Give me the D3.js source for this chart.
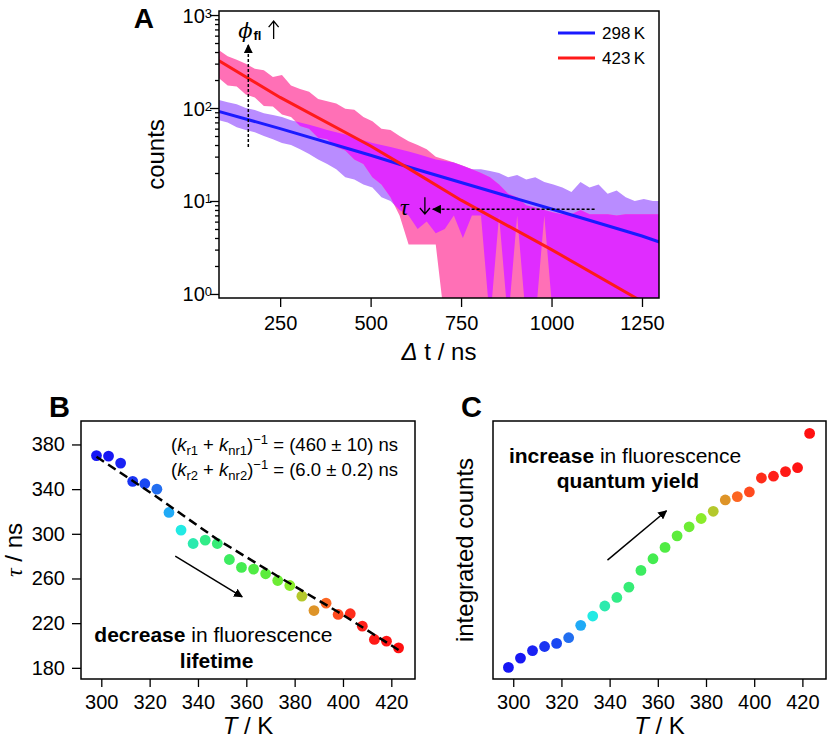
<!DOCTYPE html>
<html>
<head>
<meta charset="utf-8">
<script src="https://cdn.jsdelivr.net/npm/d3@7"></script>
<style>
  body { margin: 0; background: #fff; }
  svg { font-family: "Liberation Sans", Arial, Helvetica, sans-serif; }
</style>
</head>
<body>
<svg id="fig" width="827" height="740"></svg>
<script>
// ---- panel A: decay histograms (upper / lower edge of the noisy trace, every 25 ns) ----
const decayTime = [80,105,130,155,180,205,230,255,280,305,330,355,380,405,430,455,480,505,530,555,
    580,605,630,655,680,705,730,755,780,805,830,855,880,905,930,955,980,1005,1030,1055,
    1080,1105,1130,1155,1180,1205,1230,1255,1280,1305];
const counts423Upper = [420,360,330,300,265,255,215,226,175,160,150,125,118,112,98,96,80,72,60,58,
    50,44,40,36,30,28,26,24,22,20,18,15,12,11,9,8.5,8,7.5,7.2,7.2,
    8,7.2,7.2,7.2,7,7.2,7.2,7.2,7.2,7.2];
const counts423Lower = [210,175,170,140,130,105,104,85,80,64,60,48,46,38,35,28,25,18,15,11,
    7,3.4,3.4,3.4,3.4,0.5,0.5,0.5,0.5,0.5,0.5,0.5,0.5,0.5,0.5,0.5,0.5,0.5,0.5,0.5,
    0.5,0.5,0.5,0.5,0.5,0.5,0.5,0.5,0.5,0.5];
const counts298Upper = [122,115,110,100,95,88,84,80,74,70,66,62,58,55,52,48,45,42,40,38,
    36,34,32,30,28,27,26,24,22,22,21,20,18,19,17,18,16,15,14,12.5,
    16,14,15,12,13,11,10,10.5,10,10];
const counts298Lower = [74,70,62,58,55,50,46,42,40,36,32,28,25,22,18,17,15,14,11,10,
    8,7,5,6,4.5,5,7,4,7,7,0.5,7,0.5,7,0.5,0.5,7,0.5,0.5,0.5,
    0.5,0.5,0.5,0.5,0.5,0.5,0.5,0.5,0.5,0.5];

// fitted decays
const fitTime = [80, 250, 500, 600, 750, 1000, 1250, 1300];
const fit298 = [92, 60, 31, 23.5, 15.8, 8.2, 4.2, 3.6];
const fit423 = [325, 130, 39, 23, 10.2, 3.0, 0.83, 0.65];
const legendLabels = ["298\u2009K", "423\u2009K"];

// ---- panels B and C ----
const temps = [298,303,308,313,318,323,328,333,338,343,348,353,358,363,368,373,378,383,388,393,398,403,408,413,418,423];
const lifetimes = [370,369.6,363.3,346.9,344.8,340,319.1,303.3,291.3,294.3,291.3,277,269.9,268.4,264.2,258.2,253.7,244.2,231.3,237.9,227.8,228.4,217.3,205.4,203.9,197.9];
const lifetimeFitT = [298, 323, 348, 373, 398, 423];
const lifetimeFit = [369, 333, 295, 262, 230, 196];
const integratedCounts = [4.5,8.1,11.0,12.6,13.8,16.0,20.8,24.4,28.3,31.6,35.6,42.1,46.6,51.0,55.5,59.0,62.2,65.0,69.4,70.7,72.5,77.9,78.6,80.4,81.9,95.2];
const pointColors = ["#1616f4","#1818f4","#1a22f4","#1a34f2","#1a48f2","#226ef0","#20aaf6","#22eae4",
    "#2ceaae","#32ec88","#36ec76","#3cec60","#44ec50","#50ec44","#5cec3c","#6cec34","#8aec2a",
    "#b4c82c","#de9428","#fc6622","#ff4a1e","#ff2c1a","#ff201a","#ff1a16","#ff1414","#ff1010"];
const rateLabels = [["r1", "nr1", "460 \u00b1 10"], ["r2", "nr2", "6.0 \u00b1 0.2"]];

const svg = d3.select("#fig");
const defs = svg.append("defs");

defs.append("marker")
    .attr("id", "head")
    .attr("viewBox", "0 0 10 10")
    .attr("refX", 9).attr("refY", 5)
    .attr("markerWidth", 9).attr("markerHeight", 9)
    .attr("markerUnits", "userSpaceOnUse")
    .attr("orient", "auto")
    .append("path")
    .attr("d", "M0,0 L10,5 L0,10 Z")
    .attr("fill", "#000");

function styleAxis(g, size) {
    g.select(".domain").remove();
    g.selectAll(".tick line").attr("stroke", "#000").attr("stroke-width", 1.3);
    g.selectAll(".tick text").attr("fill", "#000").style("font-size", size + "px")
        .style("font-family", '"Liberation Sans", Arial, Helvetica, sans-serif');
}

// thin math-style arrow (up or down) drawn as a path
function thinArrow(g, x, yFrom, yTo) {
    const dir = yTo < yFrom ? 1 : -1;
    g.append("path")
        .attr("d", `M${x},${yFrom} L${x},${yTo} M${x - 5},${yTo + dir * 6} L${x},${yTo} L${x + 5},${yTo + dir * 6}`)
        .attr("fill", "none").attr("stroke", "#000").attr("stroke-width", 1.3);
}

// ================= panel A =================
const xA = d3.scaleLinear().domain([81, 1297]).range([219, 659]);
const yA = d3.scaleLog().domain([0.905, 1105]).range([298, 11]);

const decay423 = decayTime.map((t, i) => ({t: t, hi: counts423Upper[i], lo: counts423Lower[i]}));
const decay298 = decayTime.map((t, i) => ({t: t, hi: counts298Upper[i], lo: counts298Lower[i]}));

const band = d3.area()
    .x(d => xA(d.t))
    .y0(d => yA(d.lo))
    .y1(d => yA(d.hi));

defs.append("clipPath").attr("id", "clipA")
    .append("rect").attr("x", 219).attr("y", 11).attr("width", 440).attr("height", 287);
defs.append("clipPath").attr("id", "clipPink")
    .append("path").attr("d", band(decay423));

const gA = svg.append("g");
const plotA = gA.append("g").attr("clip-path", "url(#clipA)");

plotA.append("path").attr("d", band(decay298)).attr("fill", "#b98cff");
plotA.append("path").attr("d", band(decay423)).attr("fill", "#ff70b6");
plotA.append("g").attr("clip-path", "url(#clipPink)")
    .append("path").attr("d", band(decay298)).attr("fill", "#e02cff");

const fitLine = d3.line().x(d => xA(d[0])).y(d => yA(d[1]));
plotA.append("path")
    .attr("d", fitLine(fitTime.map((t, i) => [t, fit298[i]])))
    .attr("fill", "none").attr("stroke", "#1a1aff").attr("stroke-width", 3);
plotA.append("path")
    .attr("d", fitLine(fitTime.map((t, i) => [t, fit423[i]])))
    .attr("fill", "none").attr("stroke", "#ff1a1a").attr("stroke-width", 3);

// axes
gA.append("g").attr("transform", "translate(0,298)")
    .call(d3.axisBottom(xA).tickValues([250, 500, 750, 1000, 1250]).tickFormat(d3.format("d"))
        .tickSize(9).tickPadding(9).tickSizeOuter(0))
    .call(g => styleAxis(g, 20));

gA.append("g").attr("transform", "translate(219,0)")
    .call(d3.axisLeft(yA).tickValues([1, 10, 100, 1000]).tickSize(9).tickFormat("").tickSizeOuter(0))
    .call(g => styleAxis(g, 20));

let minor = [];
[1, 10, 100].forEach(dec => { for (let m = 2; m <= 9; m++) minor.push(m * dec); });
gA.append("g").attr("transform", "translate(219,0)")
    .call(d3.axisLeft(yA).tickValues(minor).tickSize(4).tickFormat("").tickSizeOuter(0))
    .call(g => styleAxis(g, 20));

[0, 1, 2, 3].forEach(p => {
    const t = gA.append("text")
        .attr("x", 212).attr("y", yA(Math.pow(10, p)) + 7.5)
        .attr("text-anchor", "end").style("font-size", "20px");
    t.append("tspan").text("10");
    t.append("tspan").attr("dy", -5).style("font-size", "13px").text(p);
});

gA.append("rect").attr("x", 219).attr("y", 11).attr("width", 440).attr("height", 287)
    .attr("fill", "none").attr("stroke", "#000").attr("stroke-width", 1.5);

// axis titles
const xtA = gA.append("text").attr("x", 439).attr("y", 360).attr("text-anchor", "middle").style("font-size", "24px");
xtA.append("tspan").style("font-style", "italic").text("\u0394");
xtA.append("tspan").text(" t / ns");
gA.append("text").attr("transform", "translate(163.5,154.5) rotate(-90)")
    .attr("text-anchor", "middle").style("font-size", "24px").text("counts");
gA.append("text").attr("x", 154).attr("y", 28).attr("text-anchor", "end")
    .style("font-size", "28px").style("font-weight", "bold").text("A");

// legend
const legColors = ["#1a1aff", "#ff1a1a"];
legendLabels.forEach((lab, i) => {
    const ly = 33 + i * 25;
    gA.append("line").attr("x1", 558).attr("x2", 595).attr("y1", ly).attr("y2", ly)
        .attr("stroke", legColors[i]).attr("stroke-width", 3);
    gA.append("text").attr("x", 602).attr("y", ly + 6).style("font-size", "17px").text(lab);
});

// annotation arrows
gA.append("line")
    .attr("x1", xA(162)).attr("y1", yA(38)).attr("x2", xA(162)).attr("y2", yA(476))
    .attr("stroke", "#000").attr("stroke-width", 1.5).attr("stroke-dasharray", "3,2")
    .attr("marker-end", "url(#head)");
gA.append("line")
    .attr("x1", xA(1119)).attr("y1", yA(8.15)).attr("x2", xA(672)).attr("y2", yA(8.15))
    .attr("stroke", "#000").attr("stroke-width", 1.5).attr("stroke-dasharray", "3,2")
    .attr("marker-end", "url(#head)");

const phi = gA.append("text").attr("x", xA(134)).attr("y", yA(566)).style("font-size", "21px");
phi.append("tspan").style("font-family", '"DejaVu Serif", serif').style("font-style", "italic").text("\u03d5");
phi.append("tspan").attr("dy", 2).attr("dx", 1).style("font-size", "13px").style("font-weight", "bold").text("fl");
thinArrow(gA, xA(232), yA(552), yA(861));

gA.append("text").attr("x", xA(581)).attr("y", yA(7.07)).style("font-size", "24px")
    .style("font-family", '"Liberation Serif", "DejaVu Serif", serif').style("font-style", "italic").text("\u03c4");
thinArrow(gA, xA(650), yA(11.0), yA(7.25));

// ================= panel B =================
const xB = d3.scaleLinear().domain([291.6, 429.8]).range([81, 415]);
const yB = d3.scaleLinear().domain([170, 401]).range([679, 421]);
const gB = svg.append("g");

gB.append("g").attr("transform", "translate(0,679)")
    .call(d3.axisBottom(xB).tickValues([300, 320, 340, 360, 380, 400, 420]).tickSize(8).tickPadding(8).tickSizeOuter(0))
    .call(g => styleAxis(g, 20));
gB.append("g").attr("transform", "translate(81,0)")
    .call(d3.axisLeft(yB).tickValues([180, 220, 260, 300, 340, 380]).tickSize(9).tickPadding(7).tickSizeOuter(0))
    .call(g => styleAxis(g, 20));

gB.selectAll("circle.pt")
    .data(temps.map((t, i) => ({t: t, v: lifetimes[i], c: pointColors[i]})))
    .join("circle").attr("class", "pt")
    .attr("cx", d => xB(d.t)).attr("cy", d => yB(d.v)).attr("r", 5.4)
    .attr("fill", d => d.c);

gB.append("path")
    .attr("d", d3.line().x(d => xB(d[0])).y(d => yB(d[1]))(lifetimeFitT.map((t, i) => [t, lifetimeFit[i]])))
    .attr("fill", "none").attr("stroke", "#000").attr("stroke-width", 2.5).attr("stroke-dasharray", "9,5");

gB.append("rect").attr("x", 81).attr("y", 421).attr("width", 334).attr("height", 258)
    .attr("fill", "none").attr("stroke", "#000").attr("stroke-width", 1.5);

rateLabels.forEach((r, i) => {
    const t = gB.append("text").attr("x", xB(422.8)).attr("y", yB(374.4 - i * 22.4))
        .attr("text-anchor", "end").style("font-size", "18.5px");
    t.append("tspan").text("(");
    t.append("tspan").style("font-style", "italic").text("k");
    t.append("tspan").attr("dy", 4).style("font-size", "13px").text(r[0]);
    t.append("tspan").attr("dy", -4).text(" + ");
    t.append("tspan").style("font-style", "italic").text("k");
    t.append("tspan").attr("dy", 4).style("font-size", "13px").text(r[1]);
    t.append("tspan").attr("dy", -4).text(")");
    t.append("tspan").attr("dy", -7).style("font-size", "13px").text("\u22121");
    t.append("tspan").attr("dy", 7).text(" = (" + r[2] + ") ns");
});

gB.append("line")
    .attr("x1", xB(330.6)).attr("y1", yB(280)).attr("x2", xB(358.3)).attr("y2", yB(243.6))
    .attr("stroke", "#000").attr("stroke-width", 1.5).attr("marker-end", "url(#head)");

const tB1 = gB.append("text").attr("x", xB(346.4)).attr("y", yB(203.4)).attr("text-anchor", "middle").style("font-size", "21px");
tB1.append("tspan").style("font-weight", "bold").text("decrease");
tB1.append("tspan").text(" in fluorescence");
gB.append("text").attr("x", xB(347.7)).attr("y", yB(180.1)).attr("text-anchor", "middle")
    .style("font-size", "21px").style("font-weight", "bold").text("lifetime");

const xtB = gB.append("text").attr("x", 248).attr("y", 734).attr("text-anchor", "middle").style("font-size", "24px");
xtB.append("tspan").style("font-style", "italic").text("T");
xtB.append("tspan").text(" / K");
const ytB = gB.append("text").attr("transform", "translate(22,550) rotate(-90)").attr("text-anchor", "middle").style("font-size", "24px");
ytB.append("tspan").style("font-family", '"Liberation Serif", "DejaVu Serif", serif').style("font-style", "italic").text("\u03c4");
ytB.append("tspan").text(" / ns");
gB.append("text").attr("x", 49).attr("y", 417).style("font-size", "29px").style("font-weight", "bold").text("B");

// ================= panel C =================
const xC = d3.scaleLinear().domain([291.6, 429.8]).range([493, 826]);
const yC = d3.scaleLinear().domain([0, 100]).range([679, 421]);
const gC = svg.append("g");

gC.append("g").attr("transform", "translate(0,679)")
    .call(d3.axisBottom(xC).tickValues([300, 320, 340, 360, 380, 400, 420]).tickSize(8).tickPadding(8).tickSizeOuter(0))
    .call(g => styleAxis(g, 20));

gC.selectAll("circle.pt")
    .data(temps.map((t, i) => ({t: t, v: integratedCounts[i], c: pointColors[i]})))
    .join("circle").attr("class", "pt")
    .attr("cx", d => xC(d.t)).attr("cy", d => yC(d.v)).attr("r", 5.4)
    .attr("fill", d => d.c);

gC.append("rect").attr("x", 493).attr("y", 421).attr("width", 333).attr("height", 258)
    .attr("fill", "none").attr("stroke", "#000").attr("stroke-width", 1.5);

gC.append("line")
    .attr("x1", xC(339.1)).attr("y1", yC(46.1)).attr("x2", xC(363.6)).attr("y2", yC(65.2))
    .attr("stroke", "#000").attr("stroke-width", 1.5).attr("marker-end", "url(#head)");

const tC1 = gC.append("text").attr("x", xC(346.4)).attr("y", yC(83.8)).attr("text-anchor", "middle").style("font-size", "21px");
tC1.append("tspan").style("font-weight", "bold").text("increase");
tC1.append("tspan").text(" in fluorescence");
gC.append("text").attr("x", xC(347.6)).attr("y", yC(73.9)).attr("text-anchor", "middle")
    .style("font-size", "21px").style("font-weight", "bold").text("quantum yield");

const xtC = gC.append("text").attr("x", 659.5).attr("y", 734).attr("text-anchor", "middle").style("font-size", "24px");
xtC.append("tspan").style("font-style", "italic").text("T");
xtC.append("tspan").text(" / K");
gC.append("text").attr("transform", "translate(472.5,550) rotate(-90)").attr("text-anchor", "middle")
    .style("font-size", "24px").text("integrated counts");
gC.append("text").attr("x", 461).attr("y", 417).style("font-size", "29px").style("font-weight", "bold").text("C");
</script>
</body>
</html>
